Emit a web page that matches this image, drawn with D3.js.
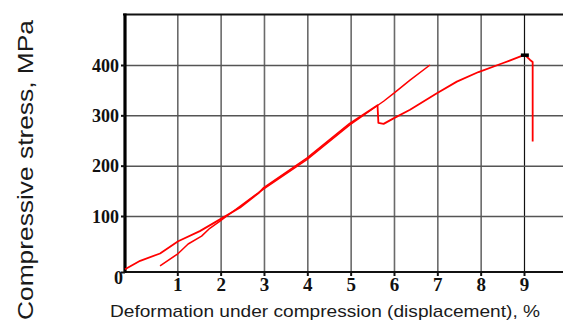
<!DOCTYPE html>
<html>
<head>
<meta charset="utf-8">
<script src="https://cdn.jsdelivr.net/npm/d3@7"></script>
<style>
  html, body { margin: 0; padding: 0; background: #fff; }
  svg { display: block; }
</style>
</head>
<body>
<svg id="chart" width="563" height="323"></svg>
<script>
// ---- data ----
const xTicks = [1, 2, 3, 4, 5, 6, 7, 8, 9];
const yTicks = [0, 100, 200, 300, 400];
const xTitle = "Deformation under compression (displacement), %";
const yTitle = "Compressive stress, MPa";

// specimen 1: loading, drop at ~5.6 %, reloading to peak, failure
const s1x = [0, 0.29, 0.67, 1.02, 1.52, 1.985, 2.45, 2.87, 2.98, 3.99, 4.98, 5.62, 5.64, 5.76, 5.99, 6.37, 6.99, 7.45, 7.95, 8.52, 8.95, 9.02, 9.14, 9.2, 9.2];
const s1y = [5, 20, 33, 55, 73, 94, 117, 145, 155, 215, 284, 320, 285, 283, 294, 311, 344, 367, 386, 404, 418, 420, 410, 406, 248];

// specimen 2: loading line
const s2x = [0.67, 1.02, 1.25, 1.56, 1.75, 1.985, 2.22, 2.98, 3.99, 4.98, 5.76, 6.0, 6.37, 6.83];
const s2y = [11, 33, 50, 64, 78, 91, 105, 153, 212, 281, 328, 344, 370, 400];

// peak marker
const peakX = [9.02];
const peakY = [420];

(function () {
const mLeft = 125, mBottom = 272, mTop = 14.5, mRight = 563;

const svg = d3.select("#chart");

// piecewise-linear scales (reference axis is not evenly spaced)
const x = d3.scaleLinear().domain([0, 1, 9]).range([mLeft, 177.3, 524]);
const y = d3.scaleLinear().domain([0, 100, 400]).range([mBottom, 216, 65]);

// vertical grid
svg.append("g")
  .attr("transform", `translate(0,${mBottom})`)
  .call(d3.axisBottom(x).tickValues(xTicks).tickSize(-(mBottom - mTop)).tickFormat(""))
  .call(g => g.select(".domain").remove())
  .call(g => g.selectAll("line")
    .attr("stroke", d => d === 9 ? "#111" : "#6a6a6a")
    .attr("stroke-width", d => d === 9 ? 1.2 : 1.6));

// horizontal grid
svg.append("g")
  .attr("transform", `translate(${mLeft},0)`)
  .call(d3.axisRight(y).tickValues(yTicks.filter(d => d > 0)).tickSize(mRight - mLeft).tickFormat(""))
  .call(g => g.select(".domain").remove())
  .call(g => g.selectAll("line").attr("stroke", "#555").attr("stroke-width", 1.5));

// top border
svg.append("line")
  .attr("x1", mLeft - 2).attr("x2", mRight)
  .attr("y1", mTop).attr("y2", mTop)
  .attr("stroke", "#111").attr("stroke-width", 2);

// bottom axis
const xAxis = svg.append("g")
  .attr("transform", `translate(0,${mBottom})`)
  .call(d3.axisBottom(x).tickValues(xTicks).tickSizeInner(4).tickSizeOuter(0).tickPadding(4));
xAxis.select(".domain").attr("d", `M${mLeft},0H${mRight}`).attr("stroke", "#111").attr("stroke-width", 2.2);
xAxis.selectAll(".tick line").attr("stroke", "#111").attr("stroke-width", 2);
xAxis.selectAll("text")
  .attr("y", 5.5)
  .attr("fill", "#111")
  .style("font-family", "'Liberation Serif', 'Times New Roman', serif")
  .style("font-weight", "bold")
  .style("font-size", "19px");

// left axis
const yAxis = svg.append("g")
  .attr("transform", `translate(${mLeft},0)`)
  .call(d3.axisLeft(y).tickValues(yTicks).tickSizeInner(4).tickSizeOuter(0).tickPadding(2));
yAxis.select(".domain").attr("d", `M0,${mTop - 1}V${mBottom + 1}`).attr("stroke", "#000").attr("stroke-width", 3.2);
yAxis.selectAll(".tick line").attr("stroke", "#111").attr("stroke-width", 2);
yAxis.selectAll("text")
  .attr("fill", "#111")
  .attr("x", d => d === 0 ? -2 : -6)
  .attr("dy", d => d === 0 ? "0.62em" : "0.34em")
  .style("font-family", "'Liberation Serif', 'Times New Roman', serif")
  .style("font-weight", "bold")
  .style("font-size", "18px");

// curves
const line = d3.line().x(d => x(d[0])).y(d => y(d[1]));
const s1 = s1x.map((v, i) => [v, s1y[i]]);
const s2 = s2x.map((v, i) => [v, s2y[i]]);

svg.append("path").datum(s2)
  .attr("d", line).attr("fill", "none")
  .attr("stroke", "#ff0000").attr("stroke-width", 1.5).attr("stroke-linejoin", "round");
svg.append("path").datum(s1)
  .attr("d", line).attr("fill", "none")
  .attr("stroke", "#ff0000").attr("stroke-width", 1.8).attr("stroke-linejoin", "round");

// peak marker
svg.selectAll(".peak").data(peakX.map((v, i) => [v, peakY[i]])).enter()
  .append("rect").attr("class", "peak")
  .attr("x", d => x(d[0]) - 4).attr("y", d => y(d[1]) - 1.5)
  .attr("width", 8).attr("height", 3.5)
  .attr("fill", "#000");

// axis titles
svg.append("text")
  .attr("x", 110).attr("y", 317)
  .attr("textLength", 430).attr("lengthAdjust", "spacingAndGlyphs")
  .attr("fill", "#1a1a1a")
  .style("font-family", "'Liberation Sans', 'Open Sans', sans-serif")
  .style("font-size", "17px")
  .text(xTitle);

svg.append("text")
  .attr("transform", "translate(33,320) rotate(-90)")
  .attr("x", 0).attr("y", 0)
  .attr("textLength", 300).attr("lengthAdjust", "spacingAndGlyphs")
  .attr("fill", "#1a1a1a")
  .style("font-family", "'Liberation Sans', 'Open Sans', sans-serif")
  .style("font-size", "22px")
  .text(yTitle);
})();
</script>
</body>
</html>
